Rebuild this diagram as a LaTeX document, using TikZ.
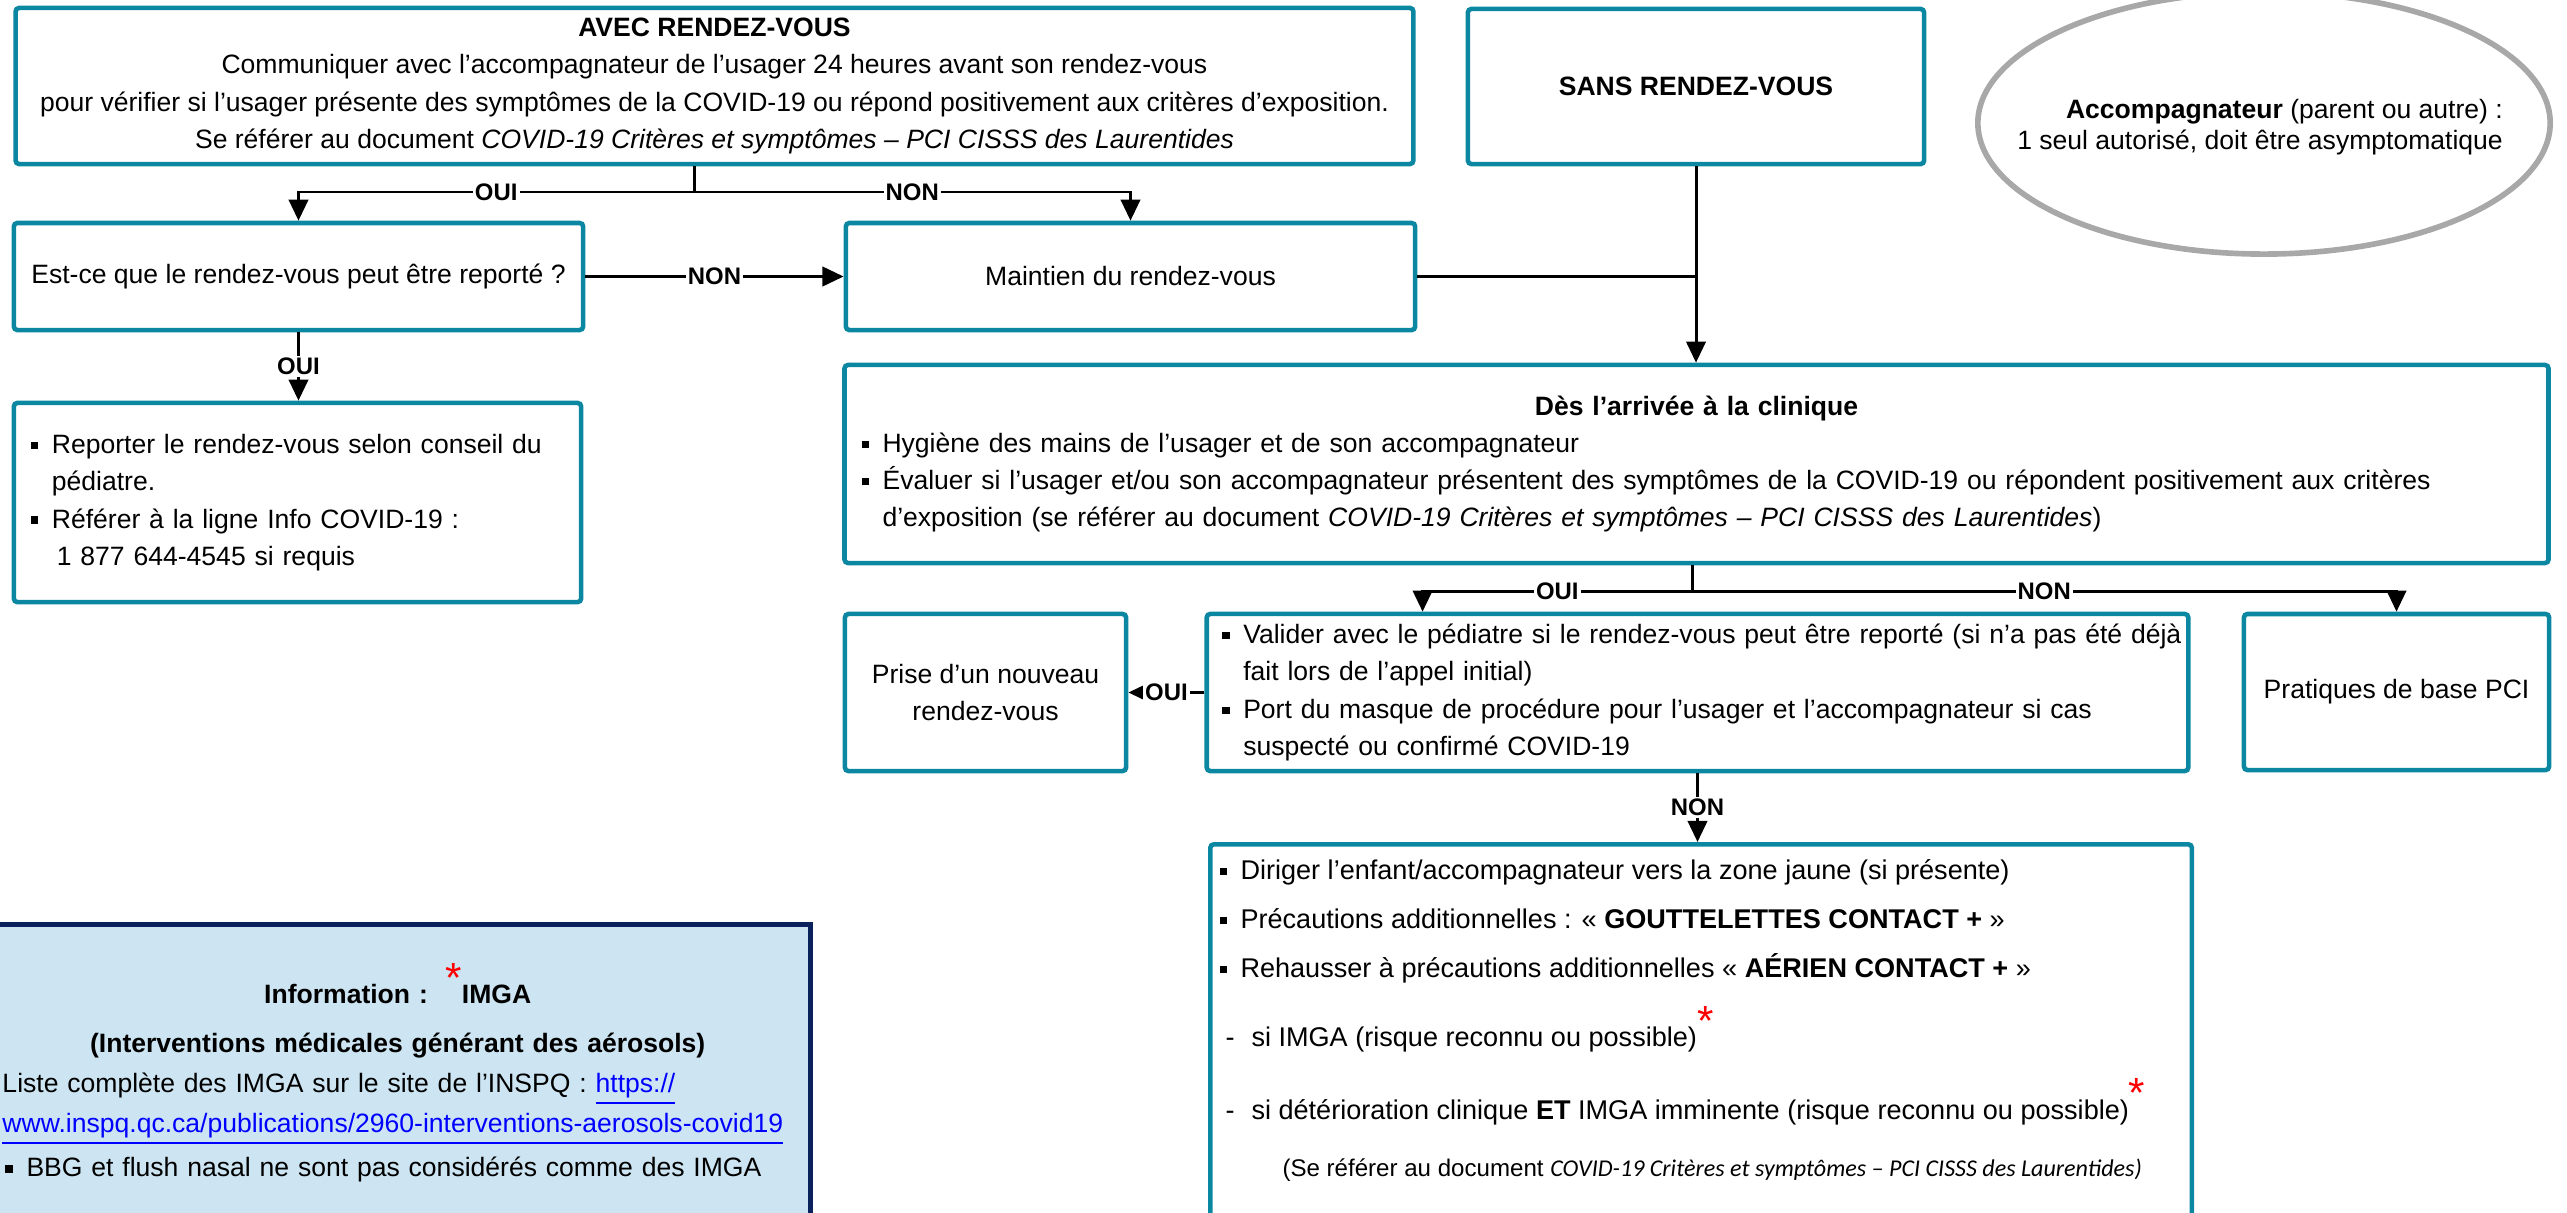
\documentclass[tikz,border=0pt]{standalone}
\usepackage{fontspec}
\setmainfont{Liberation Sans}
\newfontfamily\calibri{Carlito}
\usetikzlibrary{positioning,calc,arrows.meta,shapes.geometric}
\definecolor{tealbox}{HTML}{0B87A2}
\definecolor{navybox}{HTML}{0B215E}
\definecolor{infofill}{HTML}{CDE5F2}
\definecolor{ellgray}{HTML}{A8A8A8}
\definecolor{linkblue}{HTML}{0000FF}
\newcommand{\bul}{\makebox[0.21cm][l]{\rule[0.3ex]{0.28em}{0.28em}}}
\newcommand{\redast}{\smash{\textcolor{red}{\raisebox{0.8ex}{\fontsize{12}{12}\selectfont *}}}}
\tikzset{font=\fontsize{7.55}{10.6}\selectfont}
\tikzset{
	box/.style={draw=tealbox, line width=1.3pt, rounded corners=1pt, inner sep=0pt},
	lbl/.style={fill=white, inner sep=0.6pt, font=\fontsize{6.8}{8}\selectfont\bfseries},
}

\begin{document}
\begin{tikzpicture}[x=0.01cm, y=-0.01cm, >={Triangle[length=6pt, width=5.5pt]}, line width=0.85pt]
	\useasboundingbox (0,0) rectangle (2567,1212);

	% top row
	\node [box, minimum width=13.97cm, minimum height=1.56cm, align=center] (avec) at (714.5, 86) {\textbf{AVEC RENDEZ-VOUS}\\
		Communiquer avec l’accompagnateur de l’usager 24 heures avant son rendez-vous\\
		pour vérifier si l’usager présente des symptômes de la COVID-19 ou répond positivement aux critères d’exposition.\\
		Se référer au document \textit{COVID-19 Critères et symptômes – PCI CISSS des Laurentides}};
	\node [box, minimum width=4.56cm, minimum height=1.55cm] (sans) at (1696, 86.5) {\textbf{SANS RENDEZ-VOUS}};
	\node [ellipse, draw=ellgray, line width=1.6pt, minimum width=5.72cm, minimum height=2.62cm, inner sep=0pt] (acc) at (2264, 123) {};
	\node [align=right, inner sep=0pt] (acctxt) at (2260, 127) {\textbf{Accompagnateur} (parent ou autre) :\\[-1.7pt]
		1 seul autorisé, doit être asymptomatique};

	% second row
	\node [box, minimum width=5.69cm, minimum height=1.07cm] (est) at (298.5, 276.5) {Est-ce que le rendez-vous peut être reporté ?};
	\node [box, minimum width=5.69cm, minimum height=1.07cm] (main) at (1130.5, 276.5) {Maintien du rendez-vous};
	\node [box, minimum width=5.67cm, minimum height=1.99cm, text width=5.33cm, align=left] (rep) at (297.5, 502.5) {\bul Reporter le rendez-vous selon conseil du\\
		\hspace*{0.21cm}pédiatre.\\
		\bul Référer à la ligne Info COVID-19 :\\
		\hspace*{0.26cm}1 877 644-4545 si requis};
	\node [box, minimum width=17.03cm, minimum height=1.98cm, text width=16.69cm, align=left] (des) at (1696.5, 464) {\makebox[16.69cm]{\textbf{Dès l’arrivée à la clinique}}\\
		\bul Hygiène des mains de l’usager et de son accompagnateur\\
		\bul Évaluer si l’usager et/ou son accompagnateur présentent des symptômes de la COVID-19 ou répondent positivement aux critères\\
		\hspace*{0.21cm}d’exposition (se référer au document \textit{COVID-19 Critères et symptômes – PCI CISSS des Laurentides})};

	% third row
	\node [box, minimum width=2.81cm, minimum height=1.57cm, align=center] (prise) at (985.5, 692.5) {Prise d’un nouveau\\rendez-vous};
	\node [box, minimum width=9.81cm, minimum height=1.57cm, text width=9.5cm, align=left] (val) at (1697.5, 692.5) {\bul\makebox[9.28cm][s]{Valider avec le pédiatre si le rendez-vous peut être reporté (si n’a pas été déjà}\\
		\hspace*{0.21cm}fait lors de l’appel initial)\\
		\bul\makebox[9.28cm][s]{Port du masque de procédure pour l’usager et l’accompagnateur si cas}\\
		\hspace*{0.21cm}suspecté ou confirmé COVID-19};
	\node [box, minimum width=3.05cm, minimum height=1.56cm] (prat) at (2396.5, 692) {Pratiques de base PCI};

	% bottom boxes
	\node [box, minimum width=9.81cm, minimum height=4.2cm, anchor=north west] (dir) at (1208, 842) {};
	\node [anchor=north west, align=left, inner sep=0pt, font=\fontsize{7.7}{10.6}\selectfont] (dirtxt) at (1218, 858) {\bul Diriger l’enfant/accompagnateur vers la zone jaune (si présente)\\[3.4pt]
		\bul Précautions additionnelles : « \textbf{GOUTTELETTES CONTACT +} »\\[3.3pt]
		\bul Rehausser à précautions additionnelles « \textbf{AÉRIEN CONTACT +} »\\[9.1pt]
		\hspace*{0.06cm}-\hspace{0.17cm}si IMGA (risque reconnu ou possible)\redast\\[10pt]
		\hspace*{0.06cm}-\hspace{0.17cm}si détérioration clinique \textbf{ET} IMGA imminente (risque reconnu ou possible)\redast\\[5.7pt]
		\hspace*{0.63cm}{\fontsize{6.85}{8}\selectfont (Se référer au document {\calibri\itshape COVID-19 Critères et symptômes – PCI CISSS des Laurentides)}}};

	\node [draw=navybox, fill=infofill, line width=1.4pt, minimum width=8.28cm, minimum height=3.4cm, anchor=north west, inner sep=0pt] (info) at (-20, 922) {};
	\node [anchor=north west, text width=7.9cm, align=left, inner sep=0pt] (infotxt) at (1, 983) {\makebox[7.9cm]{\textbf{Information :\ \ }\redast\textbf{IMGA}}\\[3.4pt]
		\makebox[7.9cm]{\textbf{(Interventions médicales générant des aérosols)}}\\[0.7pt]
		Liste complète des IMGA sur le site de l’INSPQ : \textcolor{linkblue}{\underline{https://}}\\[0.7pt]
		\textcolor{linkblue}{\underline{www.inspq.qc.ca/publications/2960-interventions-aerosols-covid19}}\\[2pt]
		\hspace*{0.03cm}\bul BBG et flush nasal ne sont pas considérés comme des IMGA};

	% connectors
	\coordinate (j1) at (694, 192);
	\draw (avec.south -| j1) -- (j1);
	\draw [->] (j1) -| node [lbl, pos=0.25] {OUI} (est.north);
	\draw [->] (j1) -| node [lbl, pos=0.25] {NON} (main.north);
	\draw [->] (est) -- node [lbl] {NON} (main);
	\draw (main.east) -- (main.east -| sans.south);
	\draw [->] (sans.south) -- (sans.south |- des.north);
	\draw [->] (est.south) -- node [lbl] {OUI} (est.south |- rep.north);

	\coordinate (j2) at (1692, 591);
	\draw (des.south -| j2) -- (j2);
	\draw [->] (j2) -| node [lbl, pos=0.25] {OUI} ([xshift=2.18cm]val.north west);
	\draw [->] (j2) -| node [lbl, pos=0.25] {NON} (prat.north);
	\draw [->] (val.west) -- node [lbl] {OUI} (prise.east);
	\draw [->] (val.south) -- node [lbl] {NON} (val.south |- dir.north);
\end{tikzpicture}
\end{document}
